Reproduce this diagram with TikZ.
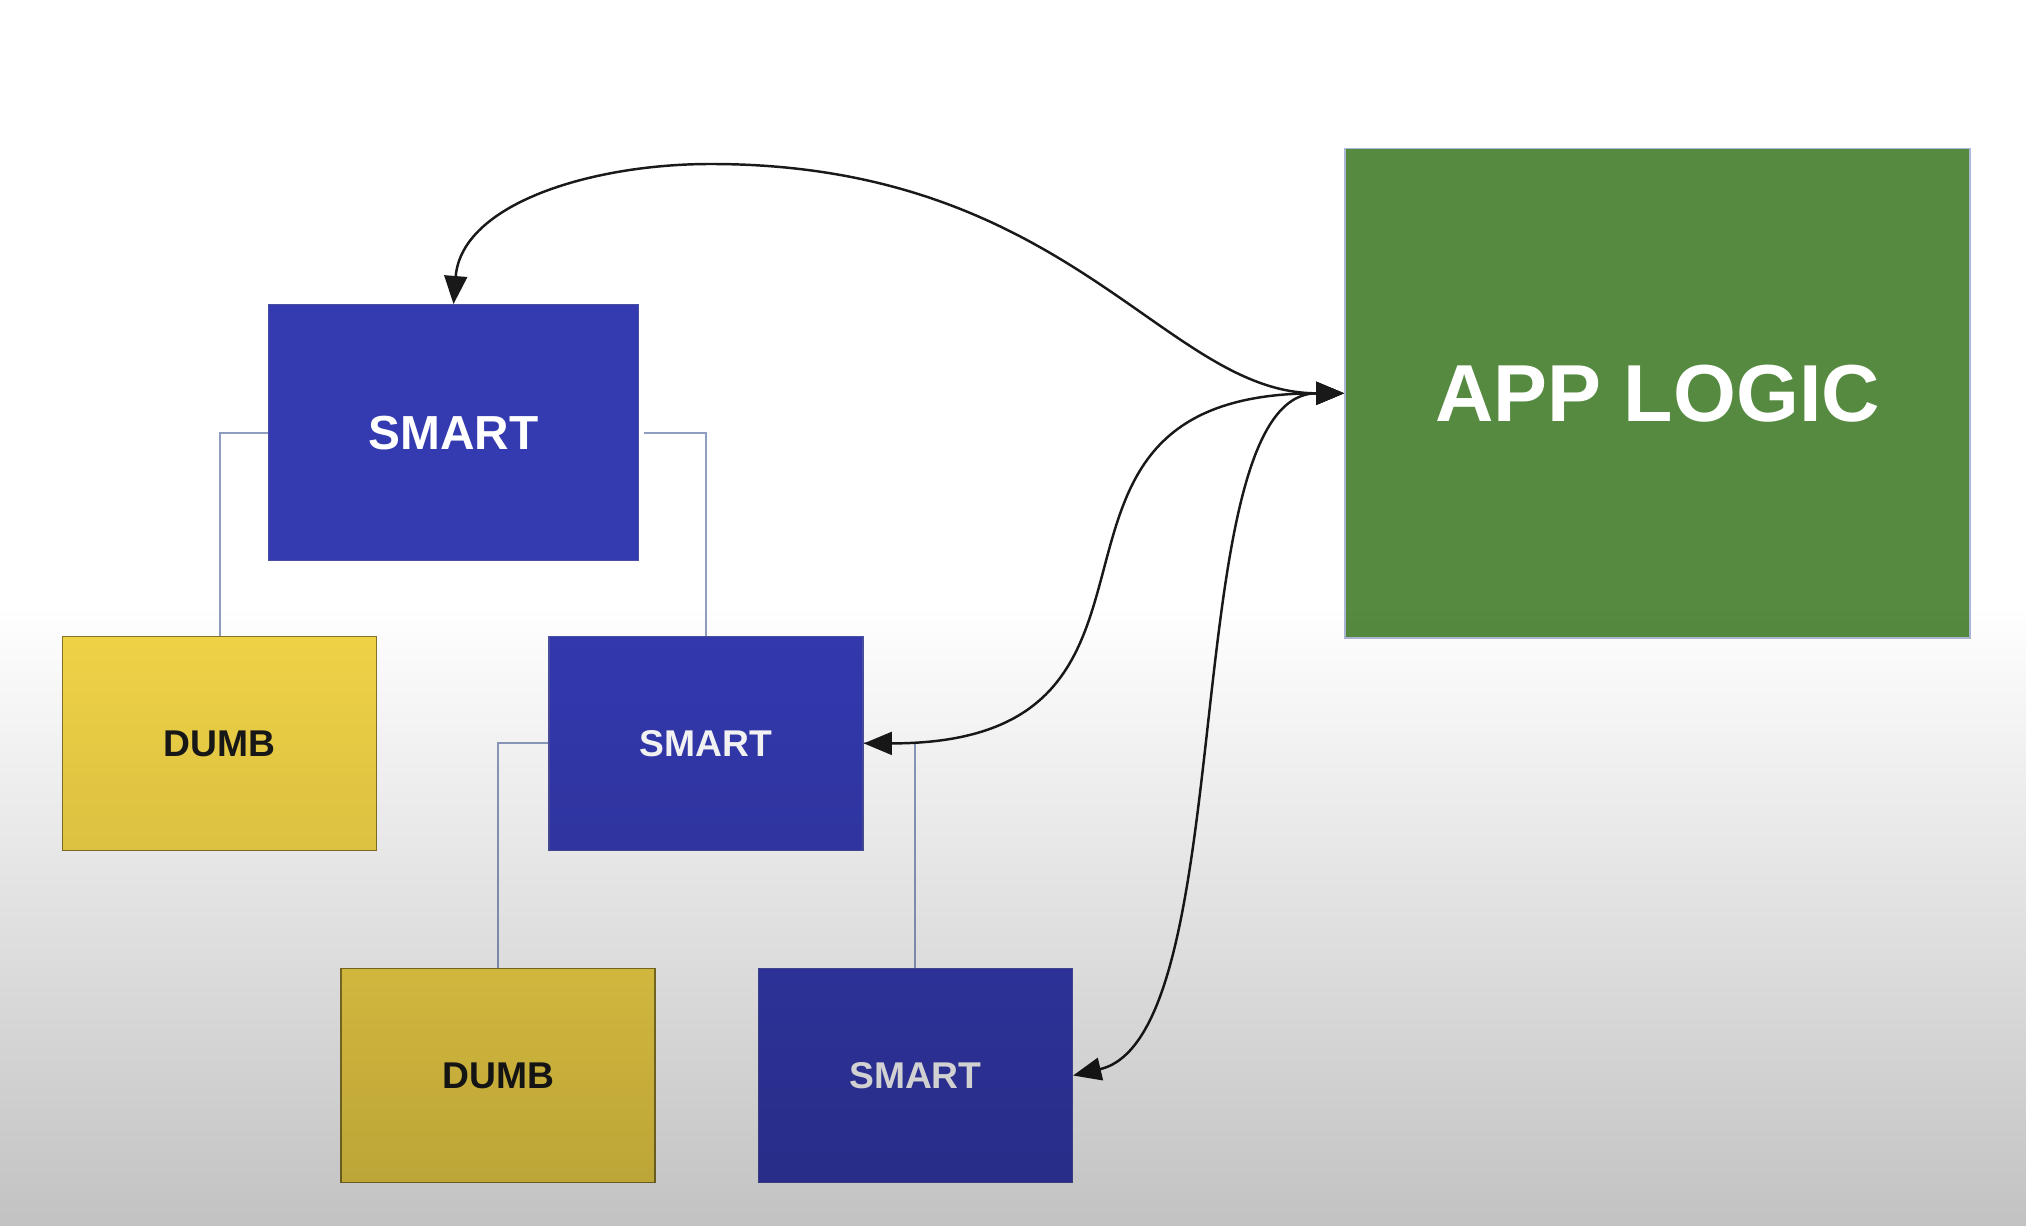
\documentclass[tikz,border=0pt]{standalone}
\usepackage{fontspec}
\setmainfont{Liberation Sans}
\usepackage{tikz}
\usetikzlibrary{arrows.meta, fadings}

\definecolor{smartblue}{HTML}{343AB0}
\definecolor{dumbyellow}{HTML}{F3D548}
\definecolor{appgreen}{HTML}{568A40}
\definecolor{treeline}{HTML}{8E9DC0}

\tikzset{
	smartbox/.style={fill=smartblue, draw=smartblue!70!gray, line width=0.4pt, inner sep=0pt, text=white, font=\bfseries\fontsize{10.6}{12}\selectfont, minimum width=3.14cm, minimum height=2.14cm},
	dumbbox/.style={fill=dumbyellow, draw=dumbyellow!55!black, line width=0.4pt, inner sep=0pt, text=black!90, font=\bfseries\fontsize{10.6}{12}\selectfont, minimum width=3.14cm, minimum height=2.14cm},
	tree/.style={treeline, line width=0.6pt},
	link/.style={black!90, line width=0.7pt, {Triangle[length=8pt,width=6.5pt]}-{Triangle[length=8pt,width=6.5pt]}}
}

\begin{document}
\begin{tikzpicture}
		\fill[white] (0,0) rectangle (20.26,12.26);
		\useasboundingbox (0,0) rectangle (20.26,12.26);

		% boxes
		\node[smartbox, minimum width=3.695cm, minimum height=2.558cm, font=\bfseries\fontsize{13.6}{15}\selectfont] (smart1) at (4.535,7.933) {SMART};
		\node[dumbbox] (dumb1) at (2.196,4.826) {DUMB};
		\node[smartbox] (smart2) at (7.061,4.826) {SMART};
		\node[dumbbox] (dumb2) at (4.981,1.505) {DUMB};
		\node[smartbox] (smart3) at (9.154,1.505) {SMART};
		\node[fill=appgreen, draw=appgreen!55!blue!40!white, line width=0.5pt, inner sep=0pt, text=white, font=\bfseries\fontsize{23}{26}\selectfont, minimum width=6.253cm, minimum height=4.897cm] (app) at (16.577,8.327) {APP LOGIC};

		% tree
		\draw[tree] (smart1.west) -| (dumb1.north);
		\draw[tree] ([xshift=0.05cm]smart1.east) -| (smart2.north);
		\draw[tree] (smart2.west) -| (dumb2.north);
		\draw[tree] (smart2.east) -| (smart3.north);

		% links to the app logic
		\coordinate (peak) at (7.106,10.62);
		\draw[link] (smart1.north) .. controls +(0.08,1.0) and +(-1.2,0) .. (peak) .. controls +(3.6,0) and +(-1.8,0) .. (app.west);
		\draw[link] (smart2.east) .. controls +(3.6,0) and +(-3.6,0) .. (app.west);
		\draw[link] (smart3.east) .. controls +(1.7,0.4) and +(-1.7,0) .. (app.west);

		% darker floor
		\fill[black, opacity=0.24, path fading=north] (0,0) rectangle (20.26,6.2);
	\end{tikzpicture}
\end{document}
